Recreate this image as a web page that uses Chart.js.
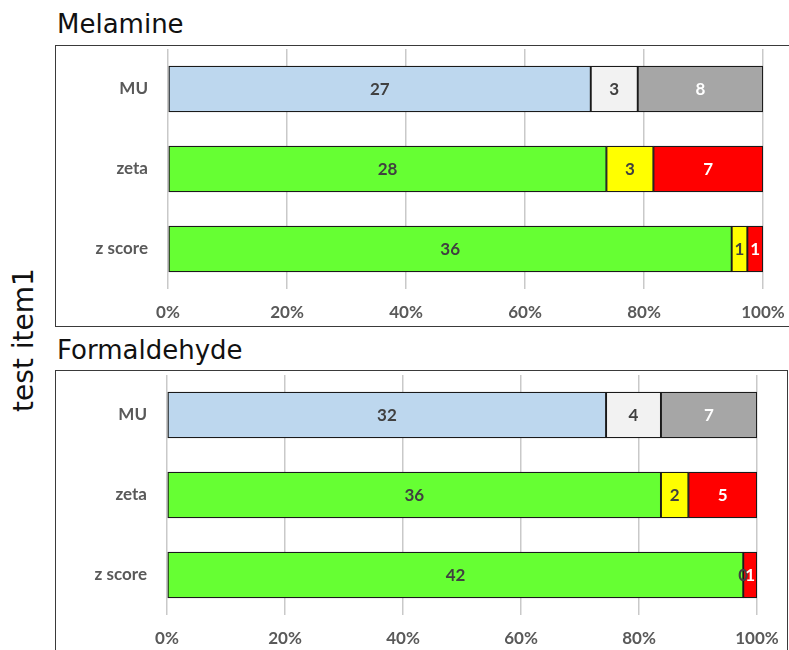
<!DOCTYPE html>
<html>
<head>
<meta charset="utf-8">
<script src="https://cdn.jsdelivr.net/npm/chart.js@4/dist/chart.umd.min.js"></script>
<style>
  html, body { margin: 0; padding: 0; background: #fff; }
  body { width: 789px; height: 650px; position: relative; overflow: hidden; }
  .frame { position: absolute; box-sizing: border-box; border: 1.5px solid #3a3a3a; }
  .title { position: absolute; font-family: "DejaVu Sans", sans-serif; font-size: 26px; line-height: 26px; color: #111; white-space: nowrap; }
  .axis-title { position: absolute; font-family: "DejaVu Sans", sans-serif; font-size: 28px; line-height: 32px; color: #111;
                width: 200px; height: 32px; text-align: center; transform: rotate(-90deg); white-space: nowrap; }
  canvas { position: absolute; }
</style>
</head>
<body>
<div class="axis-title" style="left:-76px; top:324px;">test item1</div>

<div class="title" style="left:57px; top:11px;">Melamine</div>
<div class="frame" style="left:55px; top:45px; width:760px; height:282px;"></div>
<canvas id="melamine" width="731" height="278" style="left:57px; top:47px;"></canvas>

<div class="title" style="left:57px; top:337px;">Formaldehyde</div>
<div class="frame" style="left:55px; top:370px; width:733px; height:300px;"></div>
<canvas id="formaldehyde" width="729" height="278" style="left:57px; top:372px;"></canvas>

<script>
// Rows, top to bottom
const categories = ['MU', 'zeta', 'z score'];

// Counts per row, three segments per row
const melamineFirst  = [27, 28, 36];
const melamineSecond = [3, 3, 1];
const melamineThird  = [8, 7, 1];

const formaldehydeFirst  = [32, 36, 42];
const formaldehydeSecond = [4, 2, 0];
const formaldehydeThird  = [7, 5, 1];

// Percent axis ticks
const percentTicks = [0, 20, 40, 60, 80, 100];

// Segment fills per row (MU uses greys/blue, score rows use traffic-light colours)
const firstColors  = ['#BDD7EE', '#66FF33', '#66FF33'];
const secondColors = ['#F2F2F2', '#FFFF00', '#FFFF00'];
const thirdColors  = ['#A6A6A6', '#FF0000', '#FF0000'];
const labelColors  = ['#404040', '#404040', '#FFFFFF'];

const LABEL_FONT = 'Lato';
const LABEL_SIZE = 17;

function toPercent(seg, a, b, c) {
  return seg.map((v, i) => v / (a[i] + b[i] + c[i]) * 100);
}

// Writes each segment's count in the middle of its bar piece
const countLabels = {
  id: 'countLabels',
  afterDatasetsDraw(chart) {
    const ctx = chart.ctx;
    ctx.save();
    ctx.font = 'bold ' + LABEL_SIZE + 'px ' + LABEL_FONT;
    ctx.textAlign = 'center';
    ctx.textBaseline = 'middle';
    chart.data.datasets.forEach((ds, di) => {
      const meta = chart.getDatasetMeta(di);
      meta.data.forEach((bar, i) => {
        const p = bar.getCenterPoint();
        ctx.fillStyle = labelColors[di];
        ctx.fillText(String(ds.counts[i]), p.x, p.y + 1);
      });
    });
    ctx.restore();
  }
};

function makeChart(id, a, b, c, yWidth, padRight, padTop, xHeight) {
  const sets = [a, b, c];
  const colors = [firstColors, secondColors, thirdColors];
  const names = ['first', 'second', 'third'];
  return new Chart(document.getElementById(id), {
    type: 'bar',
    data: {
      labels: categories,
      datasets: sets.map((s, k) => ({
        label: names[k],
        counts: s,
        data: toPercent(s, a, b, c),
        backgroundColor: colors[k],
        borderColor: '#1a1a1a',
        borderWidth: 1.3,
        borderSkipped: false,
        barThickness: 46
      }))
    },
    options: {
      indexAxis: 'y',
      responsive: false,
      animation: false,
      layout: { padding: { left: 0, right: padRight, top: padTop, bottom: 0 } },
      plugins: { legend: { display: false }, tooltip: { enabled: false } },
      scales: {
        x: {
          stacked: true,
          min: 0,
          max: 100,
          afterBuildTicks(scale) { scale.ticks = percentTicks.map(v => ({ value: v })); },
          afterFit(scale) {
            scale.height = xHeight;
            scale.paddingLeft = 0;
            scale.paddingRight = 0;
          },
          grid: { color: '#C9C9C9', lineWidth: 1.5, drawTicks: false },
          border: { display: false },
          ticks: {
            padding: 13,
            color: '#595959',
            font: { family: LABEL_FONT, size: LABEL_SIZE, weight: 'bold' },
            callback: v => v + '%'
          }
        },
        y: {
          stacked: true,
          afterFit(scale) {
            scale.width = yWidth;
            scale.paddingTop = 0;
            scale.paddingBottom = 0;
          },
          grid: { display: false, drawTicks: false },
          border: { display: false },
          ticks: {
            padding: 20,
            color: '#595959',
            font: { family: LABEL_FONT, size: LABEL_SIZE, weight: 'bold' }
          }
        }
      }
    },
    plugins: [countLabels]
  });
}

makeChart('melamine', melamineFirst, melamineSecond, melamineThird, 111, 25, 2, 36);
makeChart('formaldehyde', formaldehydeFirst, formaldehydeSecond, formaldehydeThird, 110, 29, 3, 35);
</script>
</body>
</html>
